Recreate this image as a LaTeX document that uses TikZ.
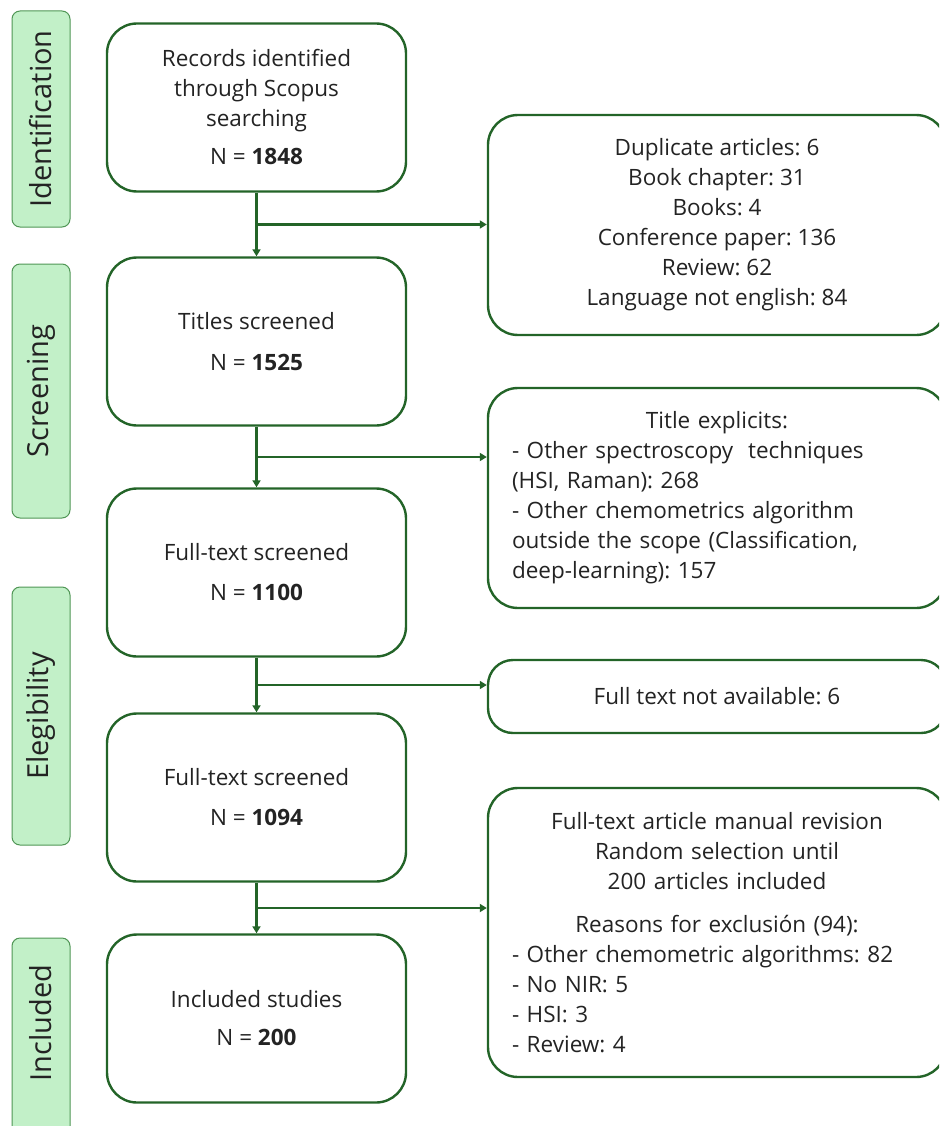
\documentclass[tikz,border=0pt]{standalone}
\usepackage{fontspec}
\setmainfont{Open Sans}
\usepackage{xcolor}
\definecolor{flowgreen}{RGB}{35,100,40}
\definecolor{phasefill}{RGB}{194,240,200}
\definecolor{phaseline}{RGB}{80,150,85}
\definecolor{inktext}{RGB}{35,35,35}
\usepackage{tikz}
\usetikzlibrary{arrows.meta,calc}
\frenchspacing

\begin{document}
\begin{tikzpicture}[x=1pt,y=-1pt,
  phase/.style={draw=phaseline, line width=1pt, fill=phasefill, rounded corners=8pt,
    minimum height=58pt, rotate=90, font=\fontsize{29}{30}\selectfont, text=inktext},
  stage/.style={draw=flowgreen, line width=2.4pt, rounded corners=30pt,
    minimum width=299pt, minimum height=168pt, align=center,
    font=\fontsize{22.5}{30}\selectfont, text=inktext},
  excl/.style={draw=flowgreen, line width=2.4pt, rounded corners=30pt,
    minimum width=458pt, align=center, font=\fontsize{22.5}{30}\selectfont, text=inktext},
  flow/.style={draw=flowgreen, line width=2.4pt, -{Triangle[length=7pt,width=8pt]}}]

% Picture frame (boxes run past the right and bottom edges)
\clip (0,0) rectangle (939,1126);

% Phase labels down the left side
\node[phase, minimum width=216pt] (ident) at (41,119) {Identification};
\node[phase, minimum width=254pt] (screen) at (41,391) {Screening};
\node[phase, minimum width=258pt] (elig) at (41,716) {Elegibility};
\node[phase, minimum width=200pt] (incl) at (41,1038) {\hspace{30pt}Included};

% Main flow
\node[stage] (rec) at (256.5,107.5) {Records identified\\through Scopus\\searching\\[8pt]N = \textbf{1848}};
\node[stage] (tit) at (256.5,341.5) {Titles screened\\[11pt]N = \textbf{1525}};
\node[stage] (full) at (256.5,572.5) {Full-text screened\\[10pt]N = \textbf{1100}};
\node[stage] (fullb) at (256.5,797.5) {Full-text screened\\[10pt]N = \textbf{1094}};
\node[stage] (study) at (256.5,1018.5) {Included studies\\[8pt]N = \textbf{200}};

% Exclusion boxes
\node[excl, minimum height=220pt] (dup) at (717,225) {Duplicate articles: 6\\Book chapter: 31\\Books: 4\\Conference paper: 136\\Review: 62\\Language not english: 84};
\node[excl, minimum height=220pt, text width=410pt, align=left, inner xsep=24pt] (expl) at (717,498) {%
\makebox[\linewidth]{Title explicits:}\\
- Other spectroscopy~ techniques\\
(HSI, Raman): 268\\
- Other chemometrics algorithm\\
outside the scope (Classification,\\
deep-learning): 157};
\node[excl, minimum height=73pt, rounded corners=25pt] (avail) at (717,696.5) {Full text not available: 6};
\node[excl, minimum height=289pt, text width=410pt, align=left, inner xsep=24pt] (rev) at (717,932.5) {%
\makebox[\linewidth]{Full-text article manual revision}\\
\makebox[\linewidth]{Random selection until}\\
\makebox[\linewidth]{200 articles included}\\[13pt]
\makebox[\linewidth]{Reasons for exclusión (94):}\\
- Other chemometric algorithms: 82\\
- No NIR: 5\\
- HSI: 3\\
- Review: 4};

% Branch points between the stages
\coordinate (m1) at ($(rec.south)!0.5!(tit.north)$);
\coordinate (m2) at ($(tit.south)!0.5!(full.north)$);
\coordinate (m3) at ($(full.south)!0.5!(fullb.north)$);
\coordinate (m4) at ($(fullb.south)!0.5!(study.north)$);

% Connectors
\draw[flow] (rec) -- (tit);
\draw[flow] (tit) -- (full);
\draw[flow] (full) -- (fullb);
\draw[flow] (fullb) -- (study);
\draw[flow] (m1) -- (m1 -| dup.west);
\draw[flow] (m2) -- (m2 -| expl.west);
\draw[flow] (m3) -- (m3 -| avail.west);
\draw[flow] (m4) -- (m4 -| rev.west);

\end{tikzpicture}
\end{document}
